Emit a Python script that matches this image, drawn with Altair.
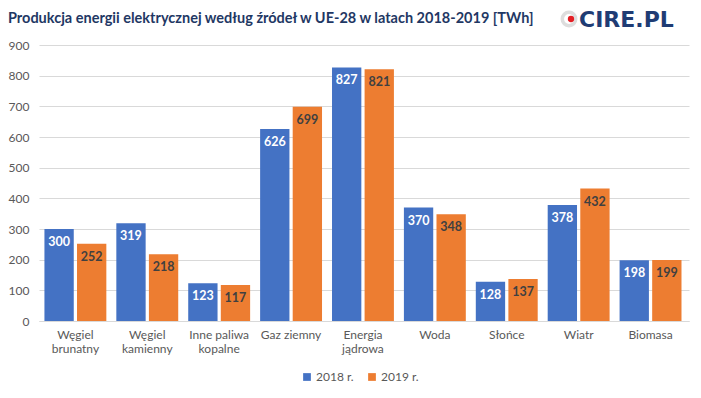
import altair as alt
import pandas as pd

categories = ["Węgiel\nbrunatny", "Węgiel\nkamienny", "Inne paliwa\nkopalne", "Gaz ziemny",
              "Energia\njądrowa", "Woda", "Słońce", "Wiatr", "Biomasa"]
series = ["2018 r.", "2019 r."]
v2018 = [300, 319, 123, 626, 827, 370, 128, 378, 198]
v2019 = [252, 218, 117, 699, 821, 348, 137, 432, 199]
y_ticks = [0, 100, 200, 300, 400, 500, 600, 700, 800, 900]
title_text = "Produkcja energii elektrycznej według źródeł w UE-28 w latach 2018-2019 [TWh]"
logo_text = "CIRE.PL"

rows = []
for c, a, b in zip(categories, v2018, v2019):
    rows.append({"kat": c, "rok": series[0], "val": a})
    rows.append({"kat": c, "rok": series[1], "val": b})
df = pd.DataFrame(rows)

FONT = "Lato"
x_enc = alt.X("kat:N", sort=categories, title=None,
              scale=alt.Scale(paddingInner=0.139, paddingOuter=0.09, align=0.42),
              axis=alt.Axis(labelExpr="split(datum.label, '\\n')", labelAngle=0,
                            labelColor="#595959", labelFontSize=12, labelFont=FONT,
                            labelLineHeight=14, labelPadding=8, ticks=False,
                            domainColor="#d9d9d9", grid=False))
y_enc = alt.Y("val:Q", title=None,
              scale=alt.Scale(domain=[0, 900], nice=False),
              axis=alt.Axis(values=y_ticks, labelColor="#595959", labelFontSize=12,
                            labelFont=FONT, labelPadding=10, ticks=False, domain=False,
                            gridColor="#d9d9d9"))
xo = alt.XOffset("rok:N", sort=series, scale=alt.Scale(paddingInner=0.1, paddingOuter=0))

base = alt.Chart(df)
bars = base.mark_bar().encode(
    x=x_enc, y=y_enc, xOffset=xo,
    color=alt.Color("rok:N", sort=series,
                    scale=alt.Scale(domain=series, range=["#4472C4", "#ED7D31"]),
                    legend=alt.Legend(title=None, orient="none", direction="horizontal",
                                      legendX=262, legendY=326, symbolType="square",
                                      symbolSize=60, labelFontSize=12, labelFont=FONT,
                                      labelColor="#595959", columnPadding=12, labelOffset=3)),
)
labels = base.mark_text(baseline="top", dy=7, fontSize=12.5, font=FONT, fontWeight="bold").encode(
    x=x_enc, y=y_enc, xOffset=xo,
    text=alt.Text("val:Q"),
    color=alt.condition("datum.rok == '2018 r.'", alt.value("white"), alt.value("#404040")),
)

one = pd.DataFrame({"t": [logo_text], "title": [title_text]})
title = alt.Chart(one).mark_text(align="left", baseline="middle", fontSize=14.5, fontWeight="bold",
                                 font=FONT, color="#1f3864").encode(
    x=alt.value(-31), y=alt.value(-26), text="title:N")
ring = alt.Chart(one).mark_point(shape="circle", size=180, strokeWidth=3.5, color="#cfcfcf",
                                 filled=False).encode(x=alt.value(530), y=alt.value(-26))
dot = alt.Chart(one).mark_point(shape="circle", size=40, color="#e31e24", filled=True,
                                opacity=1).encode(x=alt.value(532), y=alt.value(-26))
logo = alt.Chart(one).mark_text(align="left", baseline="alphabetic", fontSize=22, fontWeight=900,
                                font="DejaVu Sans", color="#1f3c74").encode(
    x=alt.value(540), y=alt.value(-18), text="t:N")

chart = alt.layer(bars, labels, title, ring, dot, logo).properties(
    width=650, height=276,
    padding={"left": 31, "top": 37, "right": 4, "bottom": 65},
    autosize=alt.AutoSizeParams(type="none"),
).configure_view(stroke=None)

chart.save("out.html", embed_options={"renderer": "svg", "actions": False})
